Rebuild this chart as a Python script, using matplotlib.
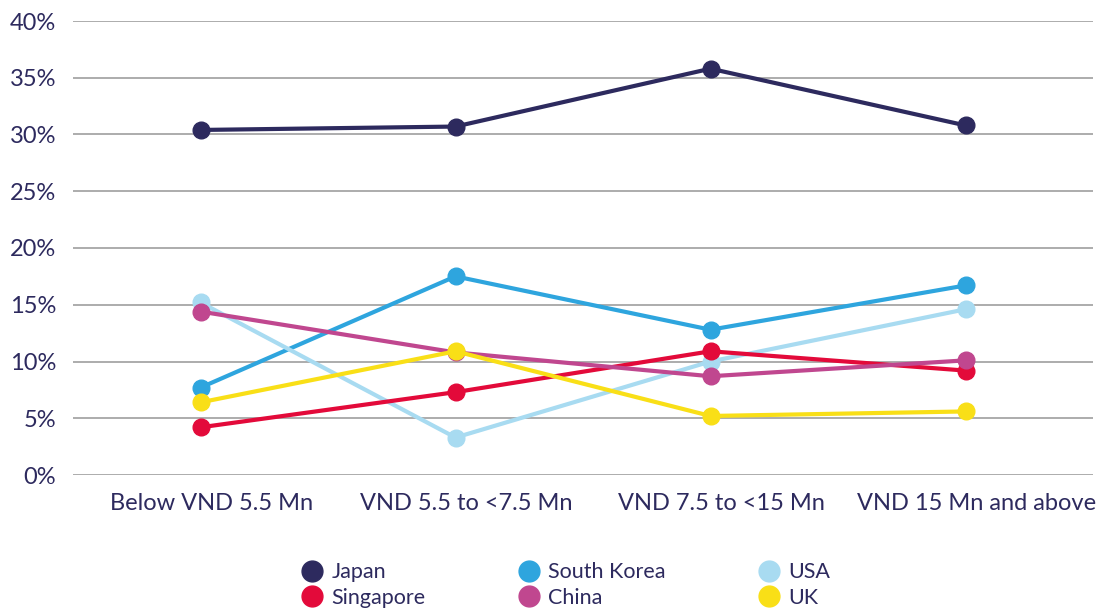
import matplotlib.pyplot as plt
import matplotlib.transforms as mtransforms
from matplotlib.lines import Line2D

plt.rcParams['font.family'] = ['Lato', 'DejaVu Sans']

categories = ["Below VND 5.5 Mn", "VND 5.5 to <7.5 Mn", "VND 7.5 to <15 Mn", "VND 15 Mn and above"]

japan = [30.4, 30.7, 35.8, 30.8]
south_korea = [7.7, 17.5, 12.8, 16.7]
usa = [15.2, 3.3, 10.0, 14.6]
singapore = [4.2, 7.3, 10.9, 9.2]
china = [14.4, 10.8, 8.7, 10.1]
uk = [6.4, 10.9, 5.2, 5.6]

series = [
    ("Japan", japan, "#2D2A5E"),
    ("South Korea", south_korea, "#2EA5DE"),
    ("USA", usa, "#A8DBF1"),
    ("Singapore", singapore, "#E30A3A"),
    ("China", china, "#C0478F"),
    ("UK", uk, "#F9DF17"),
]
text_color = "#2D2A5E"

fig = plt.figure(figsize=(11.1, 6.12), dpi=100)
ax = fig.add_axes([73 / 1110, 1 - 475 / 612, (1093 - 73) / 1110, (475 - 21) / 612])

x = list(range(len(categories)))
for name, vals, col in series:
    ax.plot(x, vals, color=col, lw=3, marker='o', ms=12, zorder=3, label=name)

ax.set_xlim(-0.5, 3.5)
ax.set_ylim(0, 40)
ax.set_yticks(range(0, 41, 5))
ax.set_yticklabels([f"{v}%" for v in range(0, 41, 5)])
ax.set_xticks(x)
ax.set_xticklabels(categories)
ax.yaxis.grid(True, color="#A6A6A6", lw=1.3)
ax.set_axisbelow(True)
for s in ax.spines.values():
    s.set_visible(False)
ax.tick_params(axis='both', length=0, labelsize=17, colors=text_color)
ax.tick_params(axis='y', pad=12)
ax.tick_params(axis='x', pad=13)

# category labels sit a little right of the points in the original
shift = mtransforms.ScaledTranslation(0.11, 0, fig.dpi_scale_trans)
for lbl in ax.get_xticklabels():
    lbl.set_transform(lbl.get_transform() + shift)

# legend in column order: Japan/Singapore, South Korea/China, USA/UK
order = ["Japan", "Singapore", "South Korea", "China", "USA", "UK"]
lookup = {n: c for n, _, c in series}
handles = [Line2D([], [], ls='none', marker='o', ms=15, color=lookup[n]) for n in order]
leg = fig.legend(handles, order, ncol=3, loc='center', bbox_to_anchor=(566 / 1110, 1 - 585 / 612),
                 frameon=False, fontsize=15.5, handletextpad=0.4, columnspacing=4.3,
                 labelspacing=0.25, handlelength=1.0)
for t in leg.get_texts():
    t.set_color(text_color)

fig.savefig("out.png", dpi=100)
